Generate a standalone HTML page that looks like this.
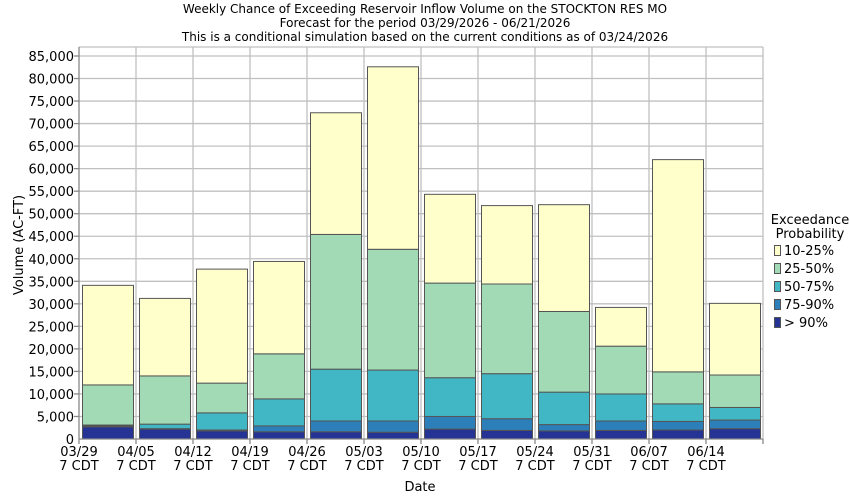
<!DOCTYPE html>
<html><head><meta charset="utf-8"><style>
html,body{margin:0;padding:0;background:#fff;}
svg{display:block;font-family:"DejaVu Sans","Liberation Sans",sans-serif;}
</style></head><body>
<svg id="s" width="850" height="500" viewBox="0 0 850 500" xmlns="http://www.w3.org/2000/svg">
<rect width="850" height="500" fill="#fff"/>
<g font-size="12" fill="#000" text-anchor="middle">
<text x="425" y="13">Weekly Chance of Exceeding Reservoir Inflow Volume on the STOCKTON RES MO</text>
<text x="425" y="27">Forecast for the period 03/29/2026 - 06/21/2026</text>
<text x="425" y="41">This is a conditional simulation based on the current conditions as of 03/24/2026</text>
</g>
<g id="grid" stroke="#c0c0c0" stroke-width="1.3"></g>
<g id="bars" stroke="#555" stroke-width="1"></g>
<line x1="79" y1="47" x2="79" y2="439" stroke="#888" stroke-width="1.3"/>
<line x1="79" y1="439" x2="763" y2="439" stroke="#888" stroke-width="1.3"/>
<g font-size="13" text-anchor="end" fill="#000">
<text x="74" y="444">0</text><text x="74" y="421.5">5,000</text><text x="74" y="399">10,000</text><text x="74" y="376.4">15,000</text><text x="74" y="353.9">20,000</text><text x="74" y="331.4">25,000</text><text x="74" y="308.8">30,000</text><text x="74" y="286.3">35,000</text><text x="74" y="263.8">40,000</text><text x="74" y="241.2">45,000</text><text x="74" y="218.7">50,000</text><text x="74" y="196.2">55,000</text><text x="74" y="173.6">60,000</text><text x="74" y="151.1">65,000</text><text x="74" y="128.6">70,000</text><text x="74" y="106.1">75,000</text><text x="74" y="83.5">80,000</text><text x="74" y="61">85,000</text>
</g>
<g font-size="13" text-anchor="middle" fill="#000">
<text x="79" y="456">03/29</text><text x="79" y="470">7 CDT</text>
<text x="136" y="456">04/05</text><text x="136" y="470">7 CDT</text>
<text x="193" y="456">04/12</text><text x="193" y="470">7 CDT</text>
<text x="250" y="456">04/19</text><text x="250" y="470">7 CDT</text>
<text x="307" y="456">04/26</text><text x="307" y="470">7 CDT</text>
<text x="364" y="456">05/03</text><text x="364" y="470">7 CDT</text>
<text x="421" y="456">05/10</text><text x="421" y="470">7 CDT</text>
<text x="478" y="456">05/17</text><text x="478" y="470">7 CDT</text>
<text x="535" y="456">05/24</text><text x="535" y="470">7 CDT</text>
<text x="592" y="456">05/31</text><text x="592" y="470">7 CDT</text>
<text x="649" y="456">06/07</text><text x="649" y="470">7 CDT</text>
<text x="706" y="456">06/14</text><text x="706" y="470">7 CDT</text>
<text x="420" y="491">Date</text>
<text transform="translate(23,245) rotate(-90)">Volume (AC-FT)</text>
</g>
<g font-size="13" fill="#000">
<text x="810" y="224" text-anchor="middle">Exceedance</text>
<text x="810" y="238" text-anchor="middle">Probability</text>
<rect x="774.5" y="245.5" width="6" height="10" fill="#ffffcc" stroke="#555"/><text x="784" y="255">10-25%</text>
<rect x="774.5" y="263.5" width="6" height="10" fill="#a1dab4" stroke="#555"/><text x="784" y="273">25-50%</text>
<rect x="774.5" y="281.5" width="6" height="10" fill="#41b6c4" stroke="#555"/><text x="784" y="291">50-75%</text>
<rect x="774.5" y="299.5" width="6" height="10" fill="#2c7fb8" stroke="#555"/><text x="784" y="309">75-90%</text>
<rect x="774.5" y="317.5" width="6" height="10" fill="#253494" stroke="#555"/><text x="784" y="327">&gt; 90%</text>
</g>
</svg>
<script>
var NS="http://www.w3.org/2000/svg";
function el(p,t,a){var e=document.createElementNS(NS,t);for(var k in a)e.setAttribute(k,a[k]);p.appendChild(e);}
var g=document.getElementById("grid");
for(var k=1;k<=17;k++){var y=439-k*22.53;el(g,"line",{x1:79,x2:763,y1:y,y2:y});el(g,"line",{x1:74,x2:79,y1:y,y2:y,stroke:"#888"});}
el(g,"line",{x1:79,x2:763,y1:47,y2:47});
for(var i=1;i<=12;i++){var x=79+57*i;el(g,"line",{x1:x,x2:x,y1:47,y2:439});}
for(var i=0;i<=12;i++){var x=79+57*i;el(g,"line",{x1:x,x2:x,y1:439,y2:444,stroke:"#888"});}
var D=[[2.7,2.9,3.1,12,34.1],[2.2,2.3,3.3,14,31.2],[1.8,2.0,5.8,12.4,37.7],[1.6,2.9,8.9,18.9,39.4],[1.6,4.0,15.5,45.4,72.4],[1.5,4.0,15.3,42.1,82.6],[2.2,5.0,13.6,34.6,54.3],[1.9,4.5,14.5,34.4,51.8],[1.8,3.2,10.4,28.3,52.0],[1.9,4.0,10.0,20.6,29.2],[2.0,3.9,7.8,14.9,62.0],[2.3,4.2,7.0,14.2,30.1]];
var C=["#253494","#2c7fb8","#41b6c4","#a1dab4","#ffffcc"];
var b=document.getElementById("bars");
D.forEach(function(d,i){var x=79+57*i+3.5,prev=0;
for(var j=0;j<5;j++){var y1=439-d[j]*4.506,y0=439-prev*4.506;el(b,"rect",{x:x,y:y1,width:51,height:Math.max(0,y0-y1),fill:C[j]});prev=d[j];}});
</script>
</body></html>
